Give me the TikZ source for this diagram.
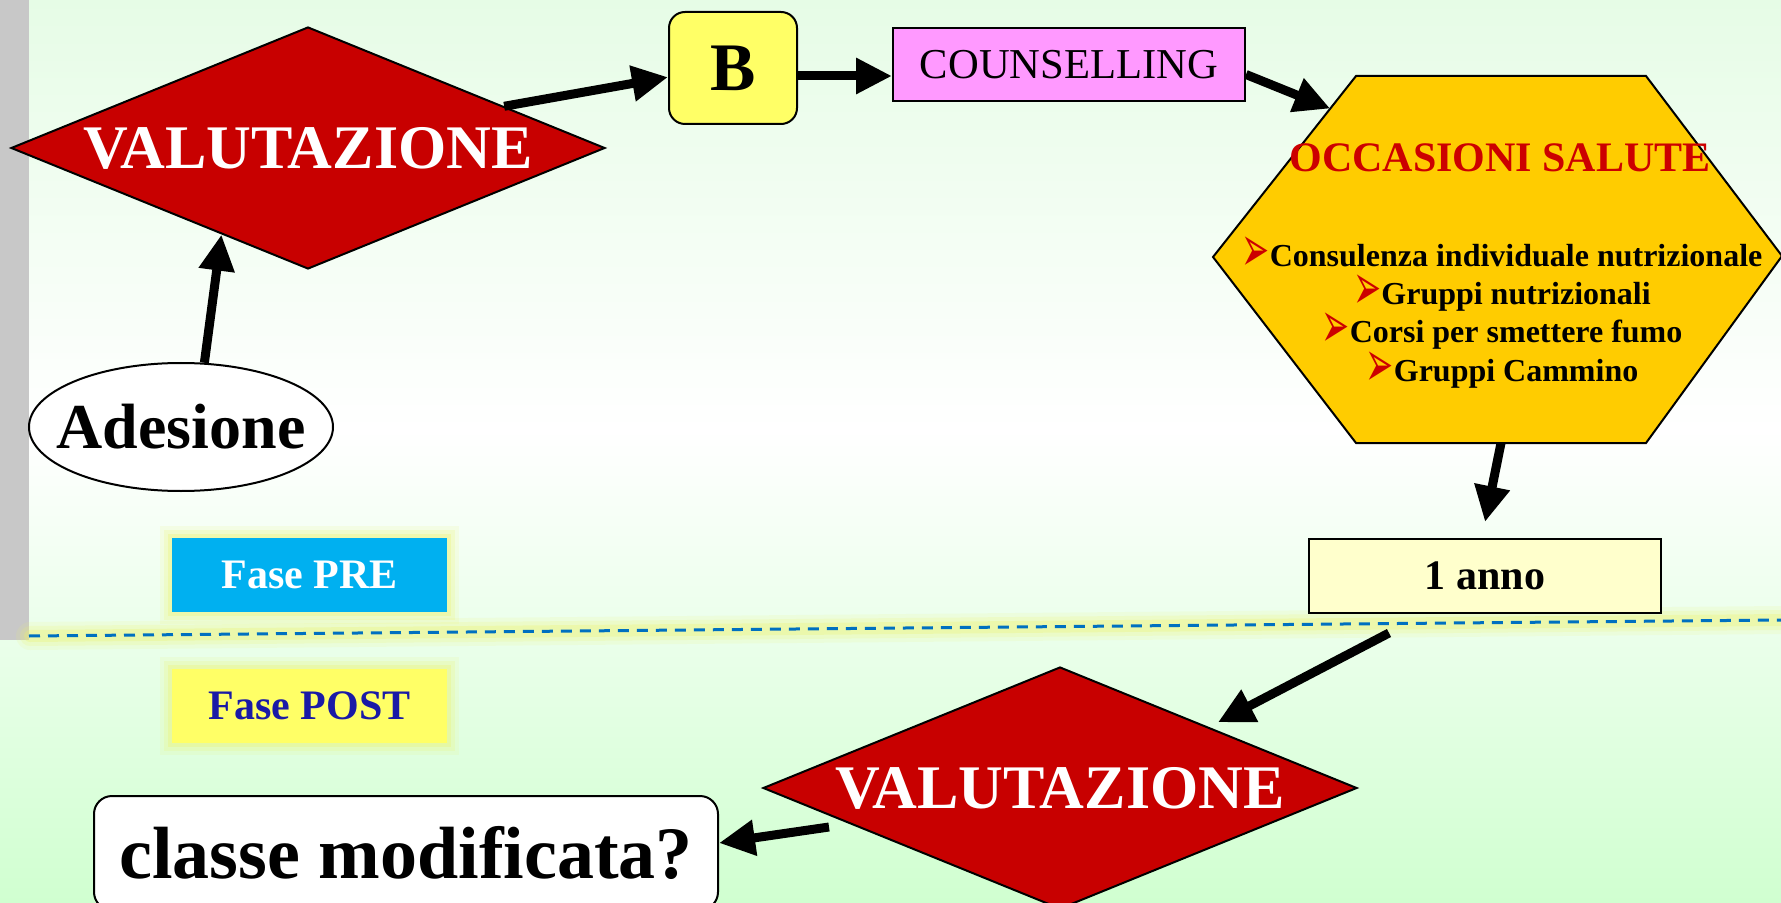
\documentclass[tikz,border=0pt]{standalone}
\usepackage{fontspec}
\setmainfont{Liberation Serif}
\newfontfamily\dejavu{DejaVu Sans}
\usepackage{tikz}
\usetikzlibrary{shapes,arrows,arrows.meta,positioning,calc}
\usepackage{xcolor}
\usepackage{graphicx}

\definecolor{bgtop}{RGB}{230,252,230}
\definecolor{bgbot}{RGB}{208,255,208}
\definecolor{barc}{RGB}{200,200,200}
\definecolor{valred}{RGB}{200,0,0}
\definecolor{byellow}{RGB}{255,255,102}
\definecolor{cpink}{RGB}{255,153,255}
\definecolor{hexgold}{RGB}{255,204,0}
\definecolor{occred}{RGB}{204,0,0}
\definecolor{preblue}{RGB}{0,176,240}
\definecolor{postblue}{RGB}{26,26,166}
\definecolor{annoyellow}{RGB}{255,255,204}
\definecolor{dashblue}{RGB}{0,112,192}
\definecolor{glowc}{RGB}{236,243,110}

\newcommand{\occbullet}{{\dejavu\fontsize{21}{19.2}\selectfont\color{occred}\smash{\raisebox{-2.5pt}{\scalebox{0.8}[1.55]{➢}}}}}

\begin{document}
\begin{tikzpicture}[x=0.5pt, y=-0.5pt, thick]
  \tikzstyle{decision} = [diamond, draw=black, line width=1pt, fill=valred, aspect=2.5, inner sep=0pt, minimum width=297pt, minimum height=121pt, text=white, font=\bfseries\fontsize{31}{36}\selectfont]
  \tikzstyle{block} = [rectangle, draw=black, line width=1pt, inner sep=2pt]
  \tikzstyle{hexagon} = [draw=black, line width=1pt, fill=hexgold]
  \tikzstyle{phase} = [rectangle, inner sep=0pt, minimum width=137.5pt, minimum height=37pt, font=\bfseries\fontsize{21}{25}\selectfont, preaction={draw=glowc, line width=12pt, opacity=0.12}, preaction={draw=glowc, line width=8pt, opacity=0.2}, preaction={draw=glowc, line width=4pt, opacity=0.3}]
  \tikzstyle{glow} = [glowc, line cap=round]
  \tikzstyle{arrow} = [draw, line width=4.5pt, -{Triangle[length=18pt,width=17pt]}]

  \useasboundingbox (0,0) rectangle (1781,903);
  \clip (0,0) rectangle (1781,903);
  \shade[top color=bgtop, bottom color=white] (0,0) rectangle (1781,430);
  \shade[top color=white, bottom color=bgbot] (0,430) rectangle (1781,903);
  \fill[barc] (0,0) rectangle (29,640);

  \draw[glow, line width=14pt, opacity=0.12] (30,636) -- (1781,620);
  \draw[glow, line width=10pt, opacity=0.18] (30,636) -- (1781,620);
  \draw[glow, line width=6pt, opacity=0.3] (30,636) -- (1781,620);
  \draw[dashblue, line width=1.5pt, dash pattern=on 5.5pt off 4pt] (29,636) -- (1781,620);

  \coordinate (hexTL) at (1356,76);
  \coordinate (hexTR) at (1646,76);
  \coordinate (hexR) at (1782,256);
  \coordinate (hexBR) at (1646,443);
  \coordinate (hexBL) at (1356,443);
  \coordinate (hexL) at (1213,257);
  \draw[hexagon] (hexTL) -- (hexTR) -- (hexR) -- (hexBR) -- (hexBL) -- (hexL) -- cycle;

  \node[decision] (val1) at (308,148) {VALUTAZIONE};
  \node[block, rounded corners=8pt, fill=byellow, minimum width=64pt, minimum height=56pt, font=\bfseries\fontsize{34}{40}\selectfont] (bbox) at (733,68) {B};
  \node[block, fill=cpink, minimum width=176pt, minimum height=36.5pt, font=\fontsize{21.3}{25}\selectfont] (cbox) at (1069,64.5) {COUNSELLING};
  \node[text=occred, font=\bfseries\fontsize{21}{25}\selectfont] (occtitle) at (1500,158) {OCCASIONI SALUTE};
  \node[align=center, anchor=north, inner sep=0pt, font=\bfseries\fontsize{16}{19.2}\selectfont] (occlist) at (1502,243) {\occbullet Consulenza individuale nutrizionale\\ \occbullet Gruppi nutrizionali\\ \occbullet Corsi per smettere fumo\\ \occbullet Gruppi Cammino};
  \node[ellipse, draw=black, line width=1pt, fill=white, minimum width=152pt, minimum height=64pt, inner xsep=-10pt, inner ysep=0pt, font=\bfseries\fontsize{32}{38}\selectfont] (adesione) at (181,427) {Adesione};
  \node[phase, fill=preblue, text=white] (pre) at (309.5,575) {Fase PRE};
  \node[phase, fill=byellow, text=postblue, below=27.5pt of pre] (post) {Fase POST};
  \node[block, fill=annoyellow, minimum width=176pt, minimum height=37pt, font=\bfseries\fontsize{21}{25}\selectfont] (yearbox) at (1485,576) {1 anno};
  \node[decision] (val2) at (1060,788) {VALUTAZIONE};
  \node[block, rounded corners=9pt, fill=white, minimum width=312pt, minimum height=57pt, font=\bfseries\fontsize{37}{44}\selectfont] (classe) at (406,853) {classe modificata?};

  \path[arrow] (adesione.70) -- (val1.225);
  \path[arrow] (val1.12) -- (bbox.188);
  \path[arrow] ([yshift=-4pt]bbox.east) -- ([yshift=-4pt]bbox.east -| cbox.west);
  \path[arrow] ([yshift=-5pt]cbox.east) -- ($(hexTL)!0.18!(hexL)$);
  \path[arrow] ($(hexBL)!0.5!(hexBR)$) -- ([yshift=8pt]yearbox.north);
  \path[arrow, shorten >=5pt] ([xshift=-48pt,yshift=-9.5pt]yearbox.south) -- (val2.north east);
  \path[arrow] ([xshift=33.5pt,yshift=-19.5pt]val2.west) -- ([yshift=5pt]classe.east);
\end{tikzpicture}
\end{document}
